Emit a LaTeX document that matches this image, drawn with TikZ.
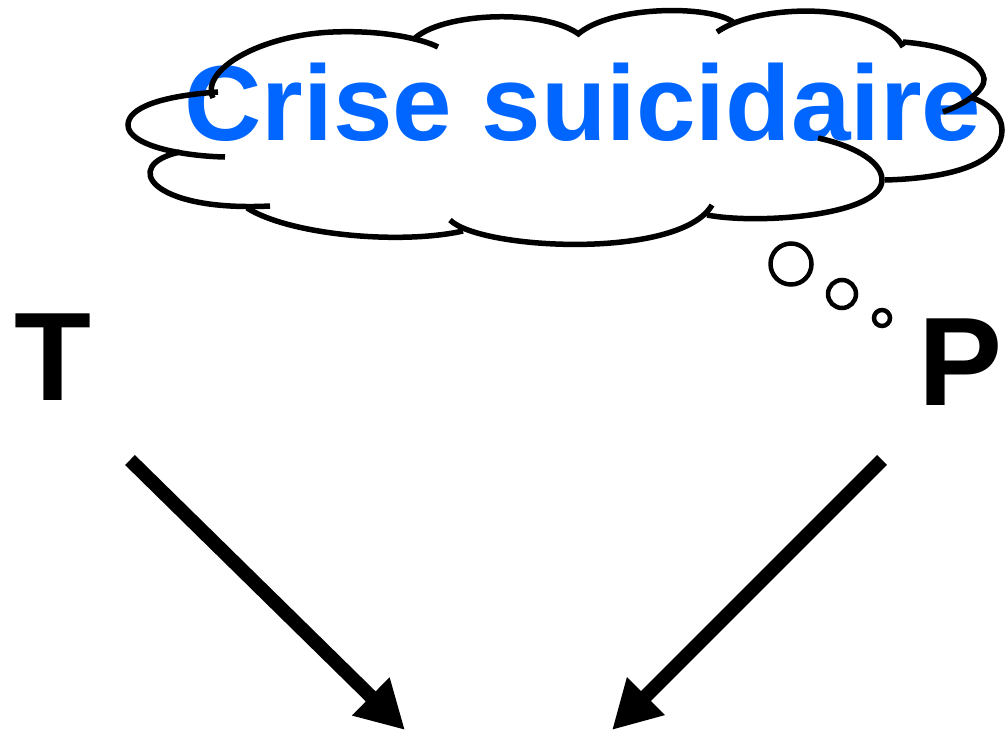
\documentclass[tikz,border=0pt]{standalone}
\usepackage{fontspec}
\setmainfont{Liberation Sans}
\usetikzlibrary{arrows.meta}
\definecolor{thoughtblue}{RGB}{0,102,255}

\tikzstyle{puff}=[draw,line width=5.5pt]
\tikzstyle{bubble}=[draw,circle,line width=4.5pt,inner sep=0pt]
\tikzstyle{letter}=[anchor=base,inner sep=0pt,font=\bfseries\fontsize{126}{126}\selectfont]
\tikzstyle{push}=[line width=14pt,-{Triangle[length=48pt,width=50pt]}]

\begin{document}
\begin{tikzpicture}[x=1pt,y=-1pt]
			\useasboundingbox (0,0) rectangle (1008,736);
			% thought
			\node (crise)[anchor=base,inner sep=0pt,text=thoughtblue,font=\bfseries\fontsize{107}{107}\selectfont] at (583,140) {Crise suicidaire};
			\begin{scope}[puff]
				\draw (218,92) .. controls (160,96) and (128,108) .. (128,125) .. controls (128,145) and (180,156) .. (225,157);
				\draw (180,152) .. controls (120,165) and (150,212) .. (270,206);
				\draw (247,208) .. controls (290,235) and (400,245) .. (463,231);
				\draw (450,220) .. controls (480,250) and (680,260) .. (712,205);
				\draw (707,215) .. controls (760,225) and (882,215) .. (882,180) .. controls (882,160) and (850,145) .. (818,138);
				\draw (885,180) .. controls (960,178) and (1002,160) .. (1002,130) .. controls (1002,115) and (990,105) .. (973,98);
				\draw (943,112) .. controls (975,100) and (988,85) .. (983,75) .. controls (975,55) and (940,45) .. (903,42);
				\draw (717,32) .. controls (760,2) and (880,2) .. (903,47);
				\draw (577,35) .. controls (610,5) and (710,5) .. (733,22);
				\draw (413,40) .. controls (440,12) and (545,8) .. (580,35);
				\draw (213,98) .. controls (200,70) and (260,35) .. (333,32) .. controls (380,30) and (420,38) .. (438,47);
			\end{scope}
			\foreach \nr/\x/\y/\r in {1/791/264/41, 2/842/294/28, 3/882/318/16}{
				\node (b\nr)[bubble,minimum size=\r pt] at (\x,\y) {};
			}
			% persons
			\node (T)[letter] at (53,400) {T};
			\node (P)[letter] at (961,405) {P};
			\coordinate (Tout) at (130,460);
			\coordinate (Tin) at (405,730);
			\coordinate (Pout) at (882,460);
			\coordinate (Pin) at (612,730);
			\draw[push] (Tout) -- (Tin);
			\draw[push] (Pout) -- (Pin);
		\end{tikzpicture}
\end{document}
